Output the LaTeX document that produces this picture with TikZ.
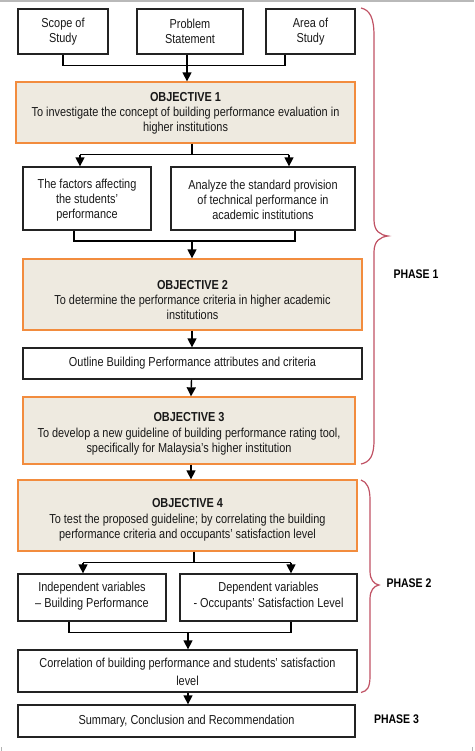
\documentclass[tikz,border=0pt]{standalone}
\usepackage{fontspec}
\setmainfont{Liberation Sans}[FakeStretch=0.84]
\usetikzlibrary{arrows.meta,calc}
\definecolor{objorange}{RGB}{242,140,62}
\definecolor{objfill}{RGB}{238,234,224}
\definecolor{bracered}{RGB}{192,82,100}
\definecolor{boxline}{RGB}{35,35,35}
\tikzset{
  plainbox/.style={draw=boxline, line width=1.3pt, fill=white, inner sep=0pt},
  objbox/.style={draw=objorange, line width=1.3pt, fill=objfill, inner sep=0pt},
  txt/.style={align=center, font=\fontsize{13}{15.3}\selectfont, inner sep=0pt, text=black!90},
  phase/.style={font=\fontsize{12.5}{15}\selectfont\bfseries, inner sep=0pt},
  conn/.style={line width=1.4pt, draw=black},
  arr/.style={conn, -{Triangle[width=9pt,length=9pt]}},
  bracestyle/.style={draw=bracered, line width=1.2pt},
}
\begin{document}
\begin{tikzpicture}[x=1pt,y=-1pt]
\useasboundingbox (0,0) rectangle (474,751);
\fill[gray!55] (0,0) rectangle (474,2.5);
\draw[gray!60, line width=0.6pt] (1.5,747) -- (1.5,751) (472.5,747) -- (472.5,751);

% top boxes
\node[plainbox, minimum width=90pt, minimum height=45pt] (scope) at (63,31.5) {};
\node[txt] (scopet) at (scope.center) {Scope of\\Study};
\node[plainbox, minimum width=106pt, minimum height=45pt] (prob) at (190,31.5) {};
\node[txt] (probt) at (prob.center) {Problem\\Statement};
\node[plainbox, minimum width=89pt, minimum height=45pt] (area) at (310.5,31.5) {};
\node[txt] (areat) at (area.center) {Area of\\Study};

% objective 1
\node[objbox, minimum width=339pt, minimum height=61pt] (o1) at (185.5,112.5) {};
\node[txt] (o1t) at ([yshift=-1pt]o1.center) {\textbf{OBJECTIVE 1}\\To investigate the concept of building performance evaluation in\\higher institutions};

\node[plainbox, minimum width=128pt, minimum height=63pt] (fac) at (87,198.5) {};
\node[txt] (fact) at ([yshift=-1.5pt]fac.center) {The factors affecting\\the students'\\performance};
\node[plainbox, minimum width=184pt, minimum height=63pt] (ana) at (263,198.5) {};
\node[txt] (anat) at ([yshift=-1.5pt]ana.center) {Analyze the standard provision\\of technical performance in\\academic institutions};

% objective 2
\node[objbox, minimum width=339pt, minimum height=71pt] (o2) at (192.5,294.5) {};
\node[txt] (o2t) at ([yshift=-5.5pt]o2.center) {\textbf{OBJECTIVE 2}\\To determine the performance criteria in higher academic\\institutions};

\node[plainbox, minimum width=339pt, minimum height=31pt] (outl) at (192.5,363.5) {};
\node[txt] (outlt) at (outl.center) {Outline Building Performance attributes and criteria};

% objective 3
\node[objbox, minimum width=332pt, minimum height=67pt] (o3) at (189,430.5) {};
\node[txt] (o3t) at ([yshift=-3.5pt]o3.center) {\textbf{OBJECTIVE 3}\\To develop a new guideline of building performance rating tool,\\specifically for Malaysia's higher institution};

% objective 4
\node[objbox, minimum width=339pt, minimum height=71pt] (o4) at (187.5,515.5) {};
\node[txt] (o4t) at ([yshift=-4.5pt]o4.center) {\textbf{OBJECTIVE 4}\\To test the proposed guideline; by correlating the building\\performance criteria and occupants' satisfaction level};

\node[plainbox, minimum width=148pt, minimum height=47pt] (ind) at (92,597.5) {};
\node[txt] (indt) at ([yshift=1.5pt]ind.center) {Independent variables\\– Building Performance};
\node[plainbox, minimum width=177pt, minimum height=47pt] (dep) at (268.5,597.5) {};
\node[txt] (dept) at ([yshift=1.5pt]dep.center) {Dependent variables\\- Occupants' Satisfaction Level};

\node[plainbox, minimum width=339pt, minimum height=42pt] (corr) at (187.5,671) {};
\node[txt, font=\fontsize{13}{18}\selectfont] (corrt) at ([yshift=-1pt]corr.center) {Correlation of building performance and students' satisfaction\\level};

\node[plainbox, minimum width=337pt, minimum height=32pt] (summ) at (186.5,721) {};
\node[txt] (summt) at (summ.center) {Summary, Conclusion and Recommendation};

% connectors
\draw[conn] (scope.south) -- ++(0,11) -| ([xshift=-25.5pt]area.south);
\draw[arr] ([xshift=-3pt]prob.south) -- ([xshift=1.5pt]o1.north);
\draw[conn] ([xshift=6.5pt]o1.south) -- ++(0,11) coordinate (j1);
\coordinate (j1l) at ([xshift=-7pt]fac.north |- j1);
\coordinate (j1r) at ([xshift=26pt]ana.north |- j1);
\draw[conn] (j1l) -- (j1r);
\draw[arr] (j1l) -- ([xshift=-7pt]fac.north);
\draw[arr] (j1r) -- ([xshift=26pt]ana.north);

\draw[conn] ([xshift=-13pt]fac.south) -- ++(0,10.5) -| ([xshift=32pt]ana.south);
\coordinate (j2) at (o2.north |- {(0,240.5)});
\draw[arr] ([xshift=-0.5pt]j2) -- ([xshift=-0.5pt]o2.north);
\draw[arr] ([xshift=-0.5pt]o2.south) -- ([xshift=-0.5pt]outl.north);
\draw[arr] ([xshift=-1pt]outl.south) -- ([xshift=2pt]o3.north);
\draw[arr] ([xshift=2pt]o3.south) -- ([xshift=3.5pt]o4.north);

\draw[conn] ([xshift=6.5pt]o4.south) -- ++(0,11) coordinate (j3);
\coordinate (j3l) at ([xshift=-9pt]ind.north |- j3);
\coordinate (j3r) at ([xshift=22.5pt]dep.north |- j3);
\draw[conn] (j3l) -- (j3r);
\draw[arr] (j3l) -- ([xshift=-9pt]ind.north);
\draw[arr] (j3r) -- ([xshift=22.5pt]dep.north);

\draw[conn] ([xshift=-23pt]ind.south) -- ++(0,11) -| ([xshift=22.5pt]dep.south);
\coordinate (j4) at ([xshift=0.5pt]corr.north |- {(0,632)});
\draw[arr] (j4) -- ([xshift=0.5pt]corr.north);
\draw[arr] ([xshift=0.5pt]corr.south) -- ([xshift=1.5pt]summ.north);

% braces
\draw[bracestyle] (361,8) .. controls (370,10) and (374,18) .. (374,36)
  -- (374,220) .. controls (374,231) and (380,235) .. (388,236)
  .. controls (380,237) and (374,241) .. (374,252)
  -- (374,440) .. controls (374,456) and (370,462) .. (361,464);
\draw[bracestyle] (361,480) .. controls (367,482) and (370,488) .. (370,500)
  -- (370,571) .. controls (370,580) and (374,584) .. (379,585)
  .. controls (374,586) and (370,590) .. (370,599)
  -- (370,676) .. controls (370,688) and (367,691) .. (361,692.5);

\node[phase] (ph1) at (416,274) {PHASE 1};
\node[phase] (ph2) at (409,583) {PHASE 2};
\node[phase] (ph3) at (396.5,719) {PHASE 3};
\end{tikzpicture}
\end{document}
